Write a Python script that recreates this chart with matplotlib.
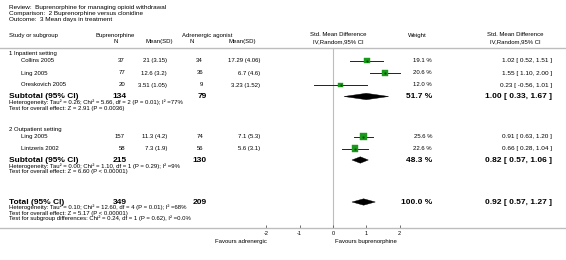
import matplotlib
matplotlib.use("Agg")
import matplotlib.pyplot as plt
from matplotlib.patches import Polygon, Rectangle

plt.rcParams['font.family'] = ['Liberation Sans', 'DejaVu Sans']

# ---------------- data ----------------
title_lines = ["Review:  Buprenorphine for managing opioid withdrawal",
               "Comparison:  2 Buprenorphine versus clonidine",
               "Outcome:  3 Mean days in treatment"]
groups = ["1 Inpatient setting", "2 Outpatient setting"]
studies = [["Collins 2005", "Ling 2005", "Oreskovich 2005"],
           ["Ling 2005", "Lintzeris 2002"]]
bup_n = [[37, 77, 20], [157, 58]]
bup_mean = [["21 (3.15)", "12.6 (3.2)", "3.51 (1.05)"], ["11.3 (4.2)", "7.3 (1.9)"]]
adr_n = [[34, 36, 9], [74, 56]]
adr_mean = [["17.29 (4.06)", "6.7 (4.6)", "3.23 (1.52)"], ["7.1 (5.3)", "5.6 (3.1)"]]
weights = [[19.1, 20.6, 12.0], [25.6, 22.6]]
smd = [[1.02, 1.55, 0.23], [0.91, 0.66]]
lo = [[0.52, 1.10, -0.56], [0.63, 0.28]]
hi = [[1.51, 2.00, 1.01], [1.20, 1.04]]
sub_n_bup = [134, 215]
sub_n_adr = [79, 130]
sub_weight = [51.7, 48.3]
sub_smd = [1.00, 0.82]
sub_lo = [0.33, 0.57]
sub_hi = [1.67, 1.06]
sub_het = ["Heterogeneity: Tau\u00b2 = 0.26; Chi\u00b2 = 5.66, df = 2 (P = 0.01); I\u00b2 =77%",
           "Heterogeneity: Tau\u00b2 = 0.00; Chi\u00b2 = 1.10, df = 1 (P = 0.29); I\u00b2 =9%"]
sub_test = ["Test for overall effect: Z = 2.91 (P = 0.0036)",
            "Test for overall effect: Z = 6.60 (P < 0.00001)"]
tot_n_bup, tot_n_adr, tot_weight = 349, 209, 100.0
tot_smd, tot_lo, tot_hi = 0.92, 0.57, 1.27
tot_notes = ["Heterogeneity: Tau\u00b2 = 0.10; Chi\u00b2 = 12.60, df = 4 (P = 0.01); I\u00b2 =68%",
             "Test for overall effect: Z = 5.17 (P < 0.00001)",
             "Test for subgroup differences: Chi\u00b2 = 0.24, df = 1 (P = 0.62), I\u00b2 =0.0%"]
xticks = [-2, -1, 0, 1, 2]
favours_left = "Favours adrenergic"
favours_right = "Favours buprenorphine"

# ---------------- layout (pixels) ----------------
W, H = 566, 260
AX_BOTTOM = 228          # y pixel of axis line
X0 = 333.0               # pixel of effect 0
UNIT = 33.3              # pixels per effect unit
group_y = [53, 130]
study_y = [[60.5, 73, 85], [136.5, 148.5]]
sub_y = [96.5, 160]
sub_note_y = [[102.5, 108.5], [166, 172]]
tot_y = 202
tot_note_y = [207.5, 213, 218.5]

FS = 4.3
FS_SMALL = 4.3
FS_TITLE = 4.6
FS_CI = 4.6
FS_BOLD = 6.0
GREEN = '#1a9a1a'
GRAY = '#bdbdbd'

fig = plt.figure(figsize=(W / 100, H / 100), dpi=100)
ax = fig.add_axes([0, (H - AX_BOTTOM) / H, 1, AX_BOTTOM / H])
ax.set_xlim((0 - X0) / UNIT, (W - X0) / UNIT)
ax.set_ylim(AX_BOTTOM, 0)
for s in ['top', 'left', 'right']:
    ax.spines[s].set_visible(False)
ax.spines['bottom'].set_color(GRAY)
ax.spines['bottom'].set_linewidth(1.0)
ax.set_yticks([])
ax.set_xticks(xticks)
ax.set_xticklabels([str(t) for t in xticks])
ax.tick_params(axis='x', direction='in', length=2, width=0.6, color='#555555',
               labelsize=4.0, pad=2.5)


def px(xp):
    return (xp - X0) / UNIT


def txt(xp, y, s, ha='left', fs=FS, bold=False):
    ax.text(px(xp), y, s, ha=ha, va='center', fontsize=fs,
            fontweight='bold' if bold else 'normal', color='black', clip_on=False)


# titles
for i, t in enumerate(title_lines):
    txt(9, 7 + i * 6.5, t, fs=FS_TITLE)

# headers
txt(9, 35, "Study or subgroup")
txt(95, 35, "Buprenorphine")
txt(116, 41.5, "N", ha='center')
txt(173, 41.5, "Mean(SD)", ha='right')
txt(182, 35, "Adrenergic agonist")
txt(192, 41.5, "N", ha='center')
txt(256, 41.5, "Mean(SD)", ha='right')
txt(338, 35, "Std. Mean Difference", ha='center')
txt(338, 41.5, "IV,Random,95% CI", ha='center')
txt(417, 35, "Weight", ha='center')
txt(515, 35, "Std. Mean Difference", ha='center')
txt(515, 41.5, "IV,Random,95% CI", ha='center')
ax.axhline(48, color=GRAY, lw=1.0)
ax.plot([0, 0], [48, AX_BOTTOM], color=GRAY, lw=0.8, zorder=1)


def ci_text(e, l, h):
    return f"{e:.2f} [ {l:.2f}, {h:.2f} ]"


def diamond(e, l, h, y, half=3.2):
    ax.add_patch(Polygon([(l, y), (e, y - half), (h, y), (e, y + half)],
                         closed=True, facecolor='black', edgecolor='black', lw=0.3, zorder=3))


for g in range(len(groups)):
    txt(9, group_y[g], groups[g])
    for i, name in enumerate(studies[g]):
        y = study_y[g][i]
        txt(21, y, name)
        txt(125, y, str(bup_n[g][i]), ha='right')
        txt(167, y, bup_mean[g][i], ha='right')
        txt(203, y, str(adr_n[g][i]), ha='right')
        txt(260, y, adr_mean[g][i], ha='right')
        txt(432, y, f"{weights[g][i]:.1f} %", ha='right')
        txt(552, y, ci_text(smd[g][i], lo[g][i], hi[g][i]), ha='right', fs=FS_CI)
        ax.plot([lo[g][i], hi[g][i]], [y, y], color='#222222', lw=0.7, zorder=2)
        side = 1.35 * weights[g][i] ** 0.5
        ax.add_patch(Rectangle((smd[g][i] - side / 2 / UNIT, y - side / 2), side / UNIT, side,
                               facecolor=GREEN, edgecolor=GREEN, lw=0.3, zorder=3))
        ax.plot([smd[g][i]], [y], marker='s', ms=1.3, color='#0a3a0a', mew=0, zorder=4)
    ys = sub_y[g]
    txt(9, ys, "Subtotal (95% CI)", fs=FS_BOLD, bold=True)
    txt(127, ys, str(sub_n_bup[g]), ha='right', fs=FS_BOLD, bold=True)
    txt(207, ys, str(sub_n_adr[g]), ha='right', fs=FS_BOLD, bold=True)
    txt(432, ys, f"{sub_weight[g]:.1f} %", ha='right', fs=FS_BOLD, bold=True)
    txt(552, ys, ci_text(sub_smd[g], sub_lo[g], sub_hi[g]), ha='right', fs=FS_BOLD, bold=True)
    diamond(sub_smd[g], sub_lo[g], sub_hi[g], ys)
    txt(9, sub_note_y[g][0], sub_het[g], fs=FS_SMALL)
    txt(9, sub_note_y[g][1], sub_test[g], fs=FS_SMALL)

txt(9, tot_y, "Total (95% CI)", fs=FS_BOLD, bold=True)
txt(127, tot_y, str(tot_n_bup), ha='right', fs=FS_BOLD, bold=True)
txt(207, tot_y, str(tot_n_adr), ha='right', fs=FS_BOLD, bold=True)
txt(432, tot_y, f"{tot_weight:.1f} %", ha='right', fs=FS_BOLD, bold=True)
txt(552, tot_y, ci_text(tot_smd, tot_lo, tot_hi), ha='right', fs=FS_BOLD, bold=True)
diamond(tot_smd, tot_lo, tot_hi, tot_y)
for yy, s in zip(tot_note_y, tot_notes):
    txt(9, yy, s, fs=FS_SMALL)

# favours labels
ax.text(px(267), AX_BOTTOM + 14, favours_left, ha='right', va='center', fontsize=FS, clip_on=False)
ax.text(px(335), AX_BOTTOM + 14, favours_right, ha='left', va='center', fontsize=FS, clip_on=False)

fig.savefig("out.png", dpi=100, facecolor='white')
